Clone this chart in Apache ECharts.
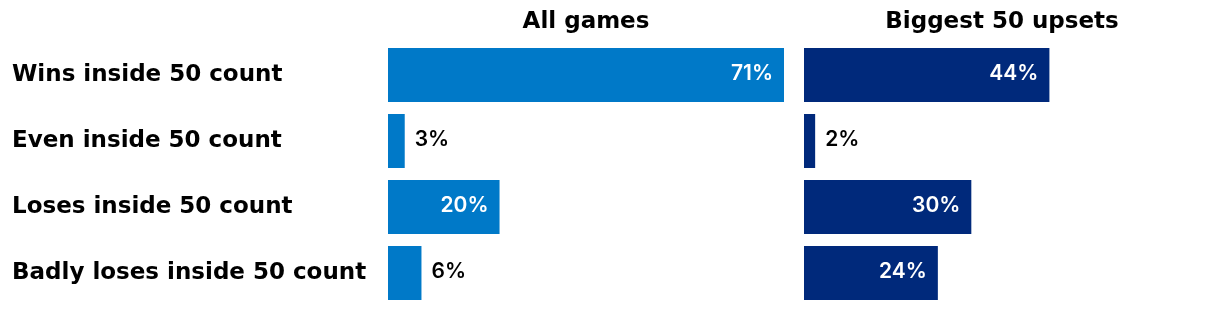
<!DOCTYPE html>
<html><head><meta charset="utf-8">
<script src="https://cdn.jsdelivr.net/npm/echarts@6/dist/echarts.min.js"></script>
<style>html,body{margin:0;padding:0;background:#fff}#c{width:1220px;height:310px}</style>
</head><body><div id="c"></div>
<script>
const categories = ['Wins inside 50 count','Even inside 50 count','Loses inside 50 count','Badly loses inside 50 count'];
const panelTitles = ['All games','Biggest 50 upsets'];
const allGames = [71, 3, 20, 6];
const upsets = [44, 2, 30, 24];

const HEAD_FONT = '"DejaVu Sans"';
const VAL_FONT = 'Inter';
const colors = ['#0079c8', '#00297b'];
const gridLefts = [388, 804];
const gridW = 396;
const maxV = 71;

function mkData(vals){
  return vals.map(v => ({
    value: v,
    label: v >= 10
      ? {position:'insideRight', distance:11, color:'#fff'}
      : {position:'right', distance:10, color:'#000'}
  }));
}

const chart = echarts.init(document.getElementById('c'), null, {renderer:'canvas'});
chart.setOption({
  animation:false,
  grid: gridLefts.map(l => ({left:l, width:gridW, top:42, height:264, containLabel:false})),
  xAxis: [0,1].map(i => ({type:'value', gridIndex:i, min:0, max:maxV, show:false})),
  yAxis: [0,1].map(i => ({
    type:'category', gridIndex:i, data:categories, inverse:true,
    axisLine:{show:false}, axisTick:{show:false}, splitLine:{show:false},
    axisLabel: i===0 ? {show:true, align:'left', margin:376, fontFamily:HEAD_FONT, fontWeight:'bold', fontSize:23, color:'#000'} : {show:false}
  })),
  graphic: panelTitles.map((t,i) => ({
    type:'text', x: gridLefts[i] + gridW/2, y: 22,
    style:{text:t, align:'center', verticalAlign:'middle', font:'bold 23px ' + HEAD_FONT, fill:'#000'}
  })),
  series: [allGames, upsets].map((vals,i) => ({
    type:'bar', xAxisIndex:i, yAxisIndex:i, data: mkData(vals),
    barCategoryGap:'18.18%', itemStyle:{color:colors[i]},
    label:{show:true, formatter:'{c}%', fontFamily:VAL_FONT, fontWeight:600, fontSize:21, offset:[0,-1]}
  }))
});
</script></body></html>
